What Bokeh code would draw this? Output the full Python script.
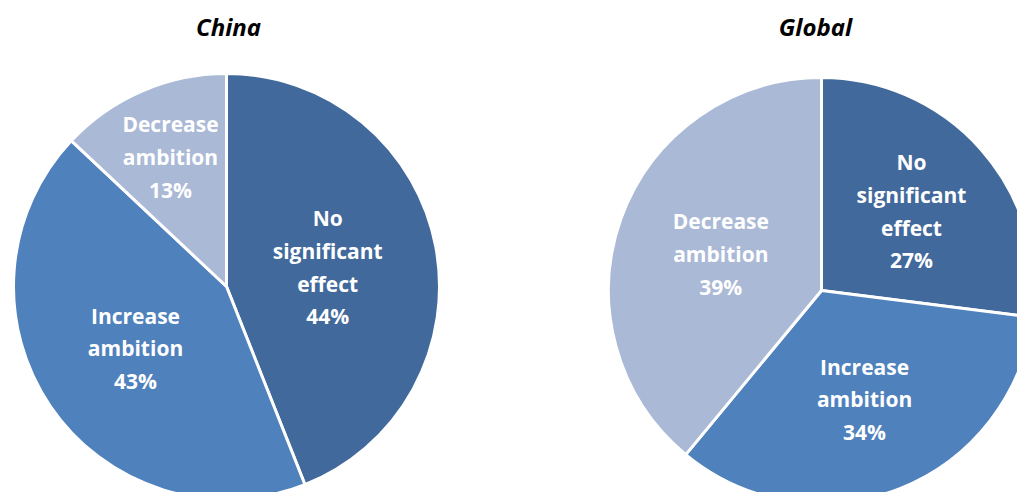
import numpy as np
from bokeh.plotting import figure
from bokeh.models import Range1d, ColumnDataSource
from bokeh.core.properties import value
from bokeh.embed import file_html
from bokeh.resources import INLINE

# ---- data ----
categories = ["No significant effect", "Increase ambition", "Decrease ambition"]
label_names = ["No\nsignificant\neffect", "Increase\nambition", "Decrease\nambition"]
china_values = [44, 43, 13]
global_values = [27, 34, 39]
titles = ["China", "Global"]

# ---- style ----
colors = ["#41699C", "#4F81BD", "#AAB9D6"]
W, H = 1017, 492
R = 213
centers = [(226, 206), (821, 202)]
title_pos = [(228, 466), (815, 466)]
label_r = [[103, 110, 141], [120, 117, 107]]
FONT = "Open Sans"

p = figure(width=W, height=H, output_backend="svg", toolbar_location=None,
           x_range=Range1d(0, W), y_range=Range1d(0, H),
           min_border=0, match_aspect=False)
p.axis.visible = False
p.grid.visible = False
p.outline_line_color = None
p.background_fill_color = "white"
p.border_fill_color = "white"

for k, vals in enumerate([china_values, global_values]):
    vals = np.array(vals, dtype=float)
    frac = vals / vals.sum()
    cum = np.concatenate([[0], np.cumsum(frac)])
    starts = np.pi / 2 - cum[:-1] * 2 * np.pi
    ends = np.pi / 2 - cum[1:] * 2 * np.pi
    cx, cy = centers[k]
    src = ColumnDataSource(dict(start=starts, end=ends, color=colors,
                                cat=categories))
    p.wedge(x=cx, y=cy, radius=R, start_angle="start", end_angle="end",
            direction="clock", fill_color="color", line_color="white",
            line_width=3, source=src)
    mids = (cum[:-1] + cum[1:]) / 2
    ang = np.pi / 2 - mids * 2 * np.pi
    lr = np.array(label_r[k])
    lx = cx + lr * np.cos(ang)
    ly = cy + lr * np.sin(ang)
    texts = [f"{n}\n{int(v)}%" for n, v in zip(label_names, vals)]
    p.text(x=lx, y=ly, text=texts, text_align="center", text_baseline="middle",
           text_color="white", text_font=value(FONT), text_font_style="bold",
           text_font_size="21px", text_line_height=1.17)
    tx, ty = title_pos[k]
    p.text(x=[tx], y=[ty], text=[titles[k]], text_align="center",
           text_baseline="middle", text_color="black", text_font=value(FONT),
           text_font_style="bold italic", text_font_size="24px")

open("out.html", "w").write(file_html(p, INLINE))
